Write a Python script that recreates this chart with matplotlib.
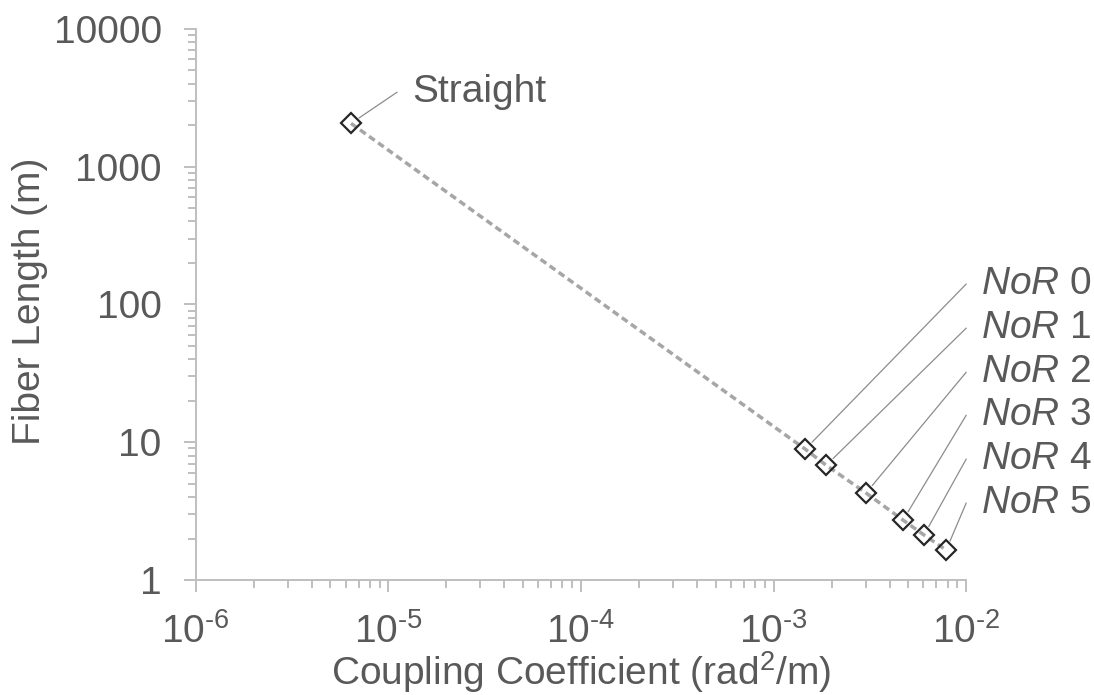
import matplotlib
matplotlib.use("Agg")
import matplotlib.pyplot as plt
from matplotlib.ticker import FixedLocator, FuncFormatter, LogLocator, NullFormatter

# --- data -----------------------------------------------------------------
point_names = ["Straight", "0", "1", "2", "3", "4", "5"]
coupling = [6.4e-6, 1.46e-3, 1.875e-3, 3.02e-3, 4.70e-3, 6.04e-3, 7.87e-3]   # rad^2/m
fiber_length = [2060, 8.9, 6.8, 4.28, 2.72, 2.12, 1.65]                     # m

x_ticks = [1e-6, 1e-5, 1e-4, 1e-3, 1e-2]
x_tick_labels = ["-6", "-5", "-4", "-3", "-2"]
y_ticks = [1, 10, 100, 1000, 10000]
y_tick_labels = ["1", "10", "100", "1000", "10000"]

# --- style ----------------------------------------------------------------
TEXT = "#595959"
AXIS = "#bfbfbf"
plt.rcParams["font.family"] = ["Liberation Sans", "DejaVu Sans"]
plt.rcParams["mathtext.fontset"] = "custom"
plt.rcParams["mathtext.rm"] = "Liberation Sans"
plt.rcParams["mathtext.it"] = "Liberation Sans:italic"
FS = 28

fig = plt.figure(figsize=(10.94, 6.95), dpi=100)
ax = fig.add_axes([0.1789, 0.1655, 0.7043, 0.7930])

ax.set_xscale("log")
ax.set_yscale("log")
ax.set_xlim(1e-6, 1e-2)
ax.set_ylim(1, 1e4)

# series: dashed connecting line with open diamond markers
ax.plot(coupling, fiber_length, color="#a6a6a6", lw=2.5,
        dashes=(2.0, 1.2), zorder=2)
ax.plot(coupling, fiber_length, ls="none", marker="D", ms=10.5,
        mfc="none", mec="#262626", mew=1.6, zorder=3)

# spines and ticks
for s in ("top", "right"):
    ax.spines[s].set_visible(False)
for s in ("left", "bottom"):
    ax.spines[s].set_color(AXIS)
    ax.spines[s].set_linewidth(1.4)


def nearest(ticks, v):
    return ticks.index(min(ticks, key=lambda t: abs(t - v)))


ax.xaxis.set_major_locator(FixedLocator(x_ticks))
ax.yaxis.set_major_locator(FixedLocator(y_ticks))
ax.xaxis.set_minor_locator(LogLocator(base=10, subs=range(2, 10), numticks=20))
ax.yaxis.set_minor_locator(LogLocator(base=10, subs=range(2, 10), numticks=20))
ax.xaxis.set_minor_formatter(NullFormatter())
ax.yaxis.set_minor_formatter(NullFormatter())
ax.xaxis.set_major_formatter(FuncFormatter(
    lambda v, p: r"$\mathregular{10^{\text{%s}}}$" % x_tick_labels[nearest(x_ticks, v)]))
ax.yaxis.set_major_formatter(FuncFormatter(
    lambda v, p: y_tick_labels[nearest(y_ticks, v)]))

ax.tick_params(which="major", length=8.5, width=1.4, color=AXIS,
               labelsize=FS, labelcolor=TEXT, direction="out")
ax.tick_params(which="minor", length=5.5, width=1.4, color=AXIS, direction="out")
ax.tick_params(axis="x", which="major", pad=15)
ax.tick_params(axis="y", which="major", pad=16)

ax.set_xlabel(r"Coupling Coefficient (rad$^{\mathregular{2}}$/m)",
              fontsize=FS, color=TEXT, va="center", ha="center")
ax.xaxis.set_label_coords(0.5, -0.168)
ax.set_ylabel("Fiber Length (m)", fontsize=FS, color=TEXT,
              va="center", ha="center")
ax.yaxis.set_label_coords(-0.215, 0.505)

# point labels with leader lines
label_anchor = [(0.2613, 0.885), (1.0, 0.537), (1.0, 0.457), (1.0, 0.377),
                (1.0, 0.299), (1.0, 0.2195), (1.0, 0.1397)]
for name, x, y, (ax_x, ax_y) in zip(point_names, coupling, fiber_length, label_anchor):
    ax.annotate("", xy=(x, y), xytext=(ax_x, ax_y), textcoords="axes fraction",
                arrowprops=dict(arrowstyle="-", color="#8c8c8c", lw=0.9,
                                shrinkA=0, shrinkB=7),
                annotation_clip=False)
    text = name if name == "Straight" else r"$\mathit{NoR}$ " + name
    ax.annotate(text, xy=(ax_x, ax_y), xycoords="axes fraction",
                xytext=(11, 0), textcoords="offset points",
                ha="left", va="center", fontsize=FS, color=TEXT,
                annotation_clip=False)

fig.savefig("out.png", dpi=100)
